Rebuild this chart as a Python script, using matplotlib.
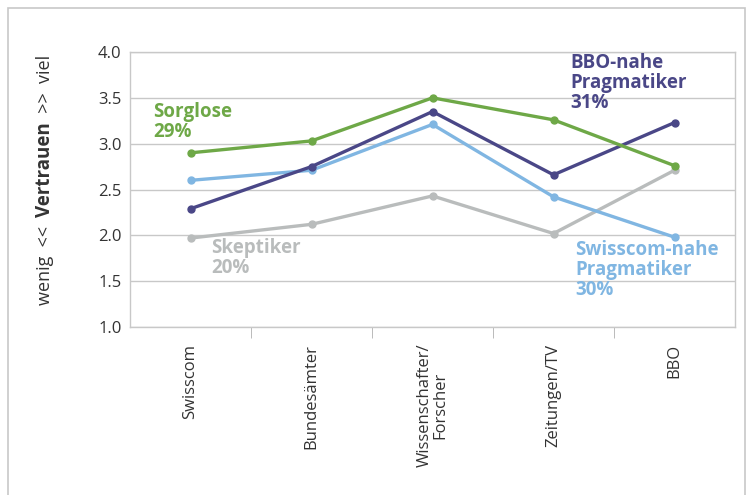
import matplotlib
matplotlib.use("Agg")
import matplotlib.pyplot as plt
from matplotlib.patches import Rectangle

plt.rcParams['font.family'] = ['Open Sans', 'DejaVu Sans']

# categories on the x axis
categories = ["Swisscom", "Bundesämter", "Wissenschafter/\nForscher", "Zeitungen/TV", "BBO"]

# mean trust per segment (1 = wenig, 4 = viel)
sorglose = [2.90, 3.03, 3.50, 3.26, 2.76]
bbo_nahe = [2.29, 2.75, 3.35, 2.66, 3.23]
swisscom_nahe = [2.60, 2.71, 3.21, 2.42, 1.98]
skeptiker = [1.97, 2.12, 2.43, 2.02, 2.71]

series = [
    ("Sorglose\n29%", sorglose, "#6ea847"),
    ("BBO-nahe\nPragmatiker\n31%", bbo_nahe, "#4a4787"),
    ("Swisscom-nahe\nPragmatiker\n30%", swisscom_nahe, "#80b6e2"),
    ("Skeptiker\n20%", skeptiker, "#b9bcbc"),
]

fig = plt.figure(figsize=(7.47, 4.95), dpi=100)
ax = fig.add_axes([130 / 747, 1 - 327 / 495, 605 / 747, 275 / 495])

# outer frame of the figure box
fig.patches.append(Rectangle((8 / 747, -0.05), 737 / 747, 1 - 8 / 495 + 0.05,
                             transform=fig.transFigure, fill=False,
                             edgecolor="#c8c8c8", linewidth=1.2))

x = list(range(len(categories)))
# draw back to front: gray, light blue, purple, green
for name, vals, col in [series[3], series[2], series[1], series[0]]:
    ax.plot(x, vals, color=col, linewidth=2.4, marker="o", markersize=5,
            solid_joinstyle="round")

# segment labels
lbl = dict(fontsize=13.5, fontweight="bold", va="top", ha="left", linespacing=1.0)
ax.text(-0.31, 3.45, series[0][0], color=series[0][2], **lbl)
ax.text(3.14, 3.99, series[1][0], color=series[1][2], **lbl)
ax.text(3.18, 1.95, series[2][0], color=series[2][2], **lbl)
ax.text(0.17, 1.97, series[3][0], color=series[3][2], **lbl)

ax.set_xlim(-0.5, len(categories) - 0.5)
ax.set_ylim(1.0, 4.0)
ax.set_yticks([1.0, 1.5, 2.0, 2.5, 3.0, 3.5, 4.0])
ax.set_yticklabels(["1.0", "1.5", "2.0", "2.5", "3.0", "3.5", "4.0"], fontsize=12, color="#333333")
ax.tick_params(axis="y", length=0, pad=6)
ax.grid(axis="y", color="#c8c8c8", linewidth=1)
ax.set_axisbelow(True)

ax.set_xticks(x)
ax.set_xticklabels(categories, rotation=90, fontsize=12, color="#333333",
                   va="top", ha="center", linespacing=0.95)
ax.tick_params(axis="x", which="major", length=0, pad=12)
ax.set_xticks([0.5, 1.5, 2.5, 3.5], minor=True)
ax.tick_params(axis="x", which="minor", length=8, color="#b0b0b0", direction="out")

for s in ax.spines.values():
    s.set_color("#c8c8c8")
    s.set_linewidth(1)

# y axis label with bold middle word
t1 = fig.text(45 / 747, 1 - 305 / 495, "wenig  <<  ", rotation=90, fontsize=13,
              color="#333333", ha="center", va="bottom")
t2 = ax.annotate("Vertrauen", xy=(0.5, 1), xycoords=t1, rotation=90, fontsize=13.5,
                 fontweight="bold", color="#333333", ha="center", va="bottom",
                 annotation_clip=False)
t3 = ax.annotate("  >>  viel", xy=(0.5, 1), xycoords=t2, rotation=90, fontsize=13,
                 color="#333333", ha="center", va="bottom", annotation_clip=False)

fig.savefig("out.png", dpi=100)
